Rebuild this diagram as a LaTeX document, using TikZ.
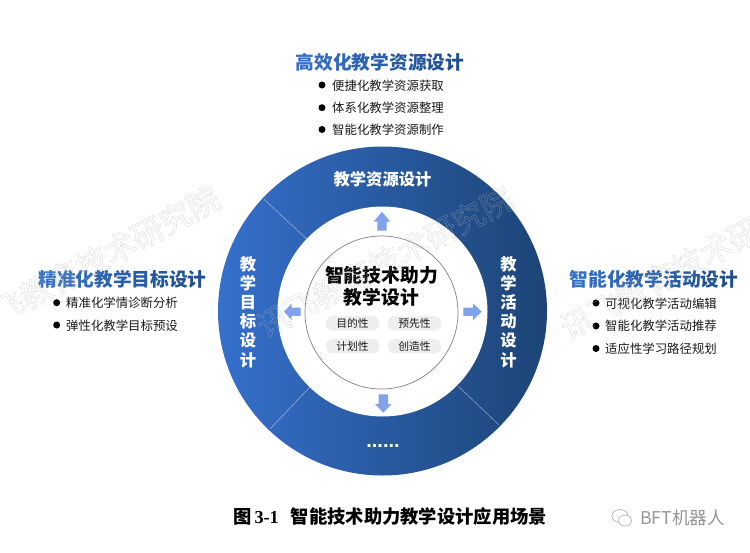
\documentclass[tikz,border=0pt]{standalone}
\usepackage{fontspec}
\setmainfont{Noto Sans CJK SC}
\newfontfamily\latinserif{Liberation Serif}
\newfontfamily\latinsans{Liberation Sans}
\usetikzlibrary{calc}
\definecolor{ringL}{HTML}{3670CC}
\definecolor{ringR}{HTML}{1C4475}
\definecolor{titleL}{HTML}{3570C6}
\definecolor{titleR}{HTML}{1F4F8F}
\definecolor{arrowB}{HTML}{7FA2EA}
\definecolor{pillG}{HTML}{EEEEEE}
\definecolor{txt}{HTML}{1A1A1A}
\newcommand{\gradtitle}[2]{\foreach \ch [count=\i] in {#2}{\pgfmathsetmacro{\pc}{100-100*(\i-1)/(#1-1)}\textcolor{titleL!\pc!titleR}{\ch}}}
\newcommand{\outlinetext}[1]{\special{pdf:code q 1 Tr 0.35 w 0.72 G}#1\special{pdf:code Q}}
\tikzset{
  x=1pt,y=-1pt,
  headline/.style={inner sep=0pt,font=\fontsize{18.7}{20}\selectfont\bfseries,anchor=center},
  itemtext/.style={inner sep=0pt,font=\fontsize{12.4}{14}\selectfont,text=txt,anchor=west},
  dotmark/.style={circle,fill=black,inner sep=0pt,minimum size=7pt},
  ringlabel/.style={inner sep=0pt,font=\fontsize{16.3}{19.2}\selectfont\bfseries,text=white,align=center},
  pill/.style={rounded corners=7pt,fill=pillG,minimum width=53.5pt,minimum height=14.5pt,inner sep=0pt,font=\fontsize{10.8}{12}\selectfont,text=txt},
  divider/.style={draw=white,draw opacity=0.45,line width=0.6pt},
  blockarrow/.style={fill=arrowB},
  wmark/.style={inner sep=0pt,rotate=28,font=\fontsize{31.5}{33}\selectfont,opacity=0.55},
}
\begin{document}
\begin{tikzpicture}
\useasboundingbox (0,0) rectangle (750,552);
\fill[white] (0,0) rectangle (750,552);

% ring
\shade[left color=ringL,right color=ringR] (382.5,311) circle (164.5);
\coordinate (dA) at (264,199.3); \coordinate (dB) at (306.7,239);
\coordinate (dC) at (270,429);   \coordinate (dD) at (310,387);
\coordinate (dE) at (499,425);   \coordinate (dF) at (458,386);
\draw[divider] (dA) -- (dB);
\draw[divider] (dC) -- (dD);
\draw[divider] (dE) -- (dF);
\fill[white] (382.5,311.5) circle (105);
\draw[draw=black!50,line width=0.7pt,fill=white] (381.5,312.5) circle (76.5);

% block arrows
\fill[blockarrow] (382,211.7) -- (390.3,221.7) -- (386.7,221.7) -- (386.7,230.7) -- (377.3,230.7) -- (377.3,221.7) -- (373.7,221.7) -- cycle;
\fill[blockarrow] (481.7,311.7) -- (473,303.4) -- (473,307.5) -- (463.3,307.5) -- (463.3,315.9) -- (473,315.9) -- (473,320) -- cycle;
\fill[blockarrow] (284,311.7) -- (291.7,303.4) -- (291.7,307.5) -- (300.7,307.5) -- (300.7,315.9) -- (291.7,315.9) -- (291.7,320) -- cycle;
\fill[blockarrow] (383.3,412.7) -- (375,404) -- (378.6,404) -- (378.6,394.3) -- (388,394.3) -- (388,404) -- (391.6,404) -- cycle;

% ring labels
\node[ringlabel] (ringTop) at (382.5,179) {教学资源设计};
\node[ringlabel] (ringLeft) at (248,312) {教\\学\\目\\标\\设\\计};
\node[ringlabel] (ringRight) at (508.5,312) {教\\学\\活\\动\\设\\计};
\node[inner sep=0pt,text=white,anchor=base,font=\fontsize{20}{22}\selectfont\latinsans\bfseries] (ringBottom) at (383,447.5) {......};

% centre
\node[inner sep=0pt,align=center,text=black,font=\fontsize{18.8}{22}\selectfont\bfseries] (centre) at (381.5,286) {智能技术助力\\教学设计};
\node[pill] (p1) at (352.5,323.3) {目的性};
\node[pill] (p2) at (414.5,323.3) {预先性};
\node[pill] (p3) at (352.5,346.2) {计划性};
\node[pill] (p4) at (414.5,346.2) {创造性};

% top block
\node[headline] (tTop) at (380,62) {\gradtitle{9}{高,效,化,教,学,资,源,设,计}};
\node[dotmark] (b1) at (322,85) {};
\node[dotmark] (b2) at (322,107.7) {};
\node[dotmark] (b3) at (322,129.5) {};
\node[itemtext] (i1) at (332,85.5) {便捷化教学资源获取};
\node[itemtext] (i2) at (332,108) {体系化教学资源整理};
\node[itemtext] (i3) at (332,130) {智能化教学资源制作};

% left block
\node[headline] (tLeft) at (122.5,279) {\gradtitle{9}{精,准,化,教,学,目,标,设,计}};
\node[dotmark] (b4) at (56.7,302.7) {};
\node[dotmark] (b5) at (56.7,325) {};
\node[itemtext] (i4) at (66,303) {精准化学情诊断分析};
\node[itemtext] (i5) at (66,325.5) {弹性化教学目标预设};

% right block
\node[headline] (tRight) at (654,279) {\gradtitle{9}{智,能,化,教,学,活,动,设,计}};
\node[dotmark] (b6) at (596,303) {};
\node[dotmark] (b7) at (596,326) {};
\node[dotmark] (b8) at (596,348.5) {};
\node[itemtext] (i6) at (605,303.5) {可视化教学活动编辑};
\node[itemtext] (i7) at (605,326) {智能化教学活动推荐};
\node[itemtext] (i8) at (605,349) {适应性学习路径规划};

% caption
\node[inner sep=0pt,anchor=west,text=black,font=\fontsize{18.3}{20}\selectfont\bfseries] (cap) at (233,517) {图\hspace{3pt}{\latinserif 3-1}\hspace{12pt}智能技术助力教学设计应用场景};

% watermarks
\node[wmark] (w1) at (92,262) {\outlinetext{讯飞教育技术研究院}};
\node[wmark] (w2) at (385,262) {\outlinetext{讯飞教育技术研究院}};
\node[wmark] (w3) at (688,264) {\outlinetext{讯飞教育技术研究院}};

% WeChat mark and account name
\draw[black!30,line width=0.7pt] (620,516) ellipse (8 and 6.5);
\draw[black!30,line width=0.7pt,fill=white] (625,520.5) ellipse (6.5 and 5.5);
\node[inner sep=0pt,anchor=west,text=black!42,font=\fontsize{17.6}{19}\selectfont] (acc) at (640,518) {BFT机器人};
\end{tikzpicture}
\end{document}
